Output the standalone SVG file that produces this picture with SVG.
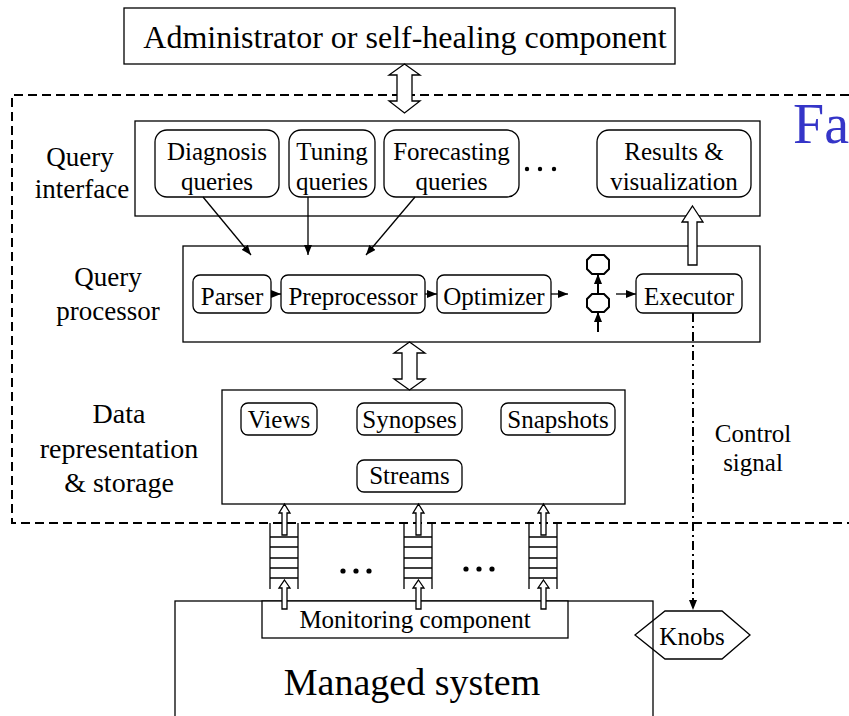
<svg xmlns="http://www.w3.org/2000/svg" width="849" height="716" viewBox="0 0 849 716">
  <style>
    text { font-family: "Liberation Serif", "Times New Roman", Times, serif; fill: #000; }
    .t25 { font-size: 25px; text-anchor: middle; }
    .lbl { font-size: 27px; text-anchor: middle; }
    .lbl28 { font-size: 28px; text-anchor: middle; }
    .box { fill: #fff; stroke: #000; stroke-width: 1.3; }
    .rnd { fill: #fff; stroke: #000; stroke-width: 1.3; }
    .line { fill: none; stroke: #000; stroke-width: 1.3; }
    .thick { fill: none; stroke: #000; stroke-width: 2; }
    .hollow { fill: #fff; stroke: #000; stroke-width: 1.3; stroke-linejoin: miter; }
    .dot { fill: #000; }
  </style>
  <defs>
    <marker id="ah" viewBox="0 0 10 10" refX="10" refY="5" markerWidth="10" markerHeight="8" markerUnits="userSpaceOnUse" orient="auto" preserveAspectRatio="none">
      <path d="M0,0 L10,5 L0,10 z" fill="#000"/>
    </marker>
  </defs>

  <!-- Managed system (extends past the lower edge) -->
  <g id="managed-system">
    <rect class="box" x="175" y="601" width="478" height="130"/>
    <text x="412" y="695" style="font-size:38px;text-anchor:middle">Managed system</text>
  </g>

  <!-- Monitoring component -->
  <g id="monitoring-component">
    <rect class="box" x="262" y="601" width="306" height="37"/>
    <text class="t25" x="415" y="628">Monitoring component</text>
  </g>

  <!-- Administrator -->
  <g id="administrator">
    <rect class="box" x="124" y="8" width="551" height="56"/>
    <text x="405" y="48" style="font-size:32px;text-anchor:middle">Administrator or self-healing component</text>
  </g>

  <!-- Framework boundary (open on the right) -->
  <g id="framework">
    <path d="M849,95 H12 V523 H849" fill="none" stroke="#000" stroke-width="2" stroke-dasharray="9 5"/>
    <text x="793" y="143" style="font-size:56px;fill:#3535c8">Fa</text>
  </g>

  <!-- Query interface layer -->
  <g id="query-interface">
    <rect class="box" x="135" y="121" width="625" height="95"/>
    <text class="lbl" x="80" y="166">Query</text>
    <text class="lbl" x="82" y="198">interface</text>
  </g>
  <g id="diagnosis-queries">
    <rect class="rnd" x="155" y="130" width="124" height="67" rx="12"/>
    <text class="t25" x="217" y="160">Diagnosis</text>
    <text class="t25" x="217" y="190">queries</text>
  </g>
  <g id="tuning-queries">
    <rect class="rnd" x="289" y="130" width="86" height="67" rx="12"/>
    <text class="t25" x="332" y="160">Tuning</text>
    <text class="t25" x="332" y="190">queries</text>
  </g>
  <g id="forecasting-queries">
    <rect class="rnd" x="384" y="130" width="135" height="67" rx="12"/>
    <text class="t25" x="451.5" y="160">Forecasting</text>
    <text class="t25" x="451.5" y="190">queries</text>
  </g>
  <g id="more-queries">
    <circle class="dot" cx="527" cy="169" r="2.2"/>
    <circle class="dot" cx="540" cy="169" r="2.2"/>
    <circle class="dot" cx="554" cy="169" r="2.2"/>
  </g>
  <g id="results-visualization">
    <rect class="rnd" x="597" y="130" width="154" height="67" rx="12"/>
    <text class="t25" x="674" y="160">Results &amp;</text>
    <text class="t25" x="674" y="190">visualization</text>
  </g>

  <!-- Query processor layer -->
  <g id="query-processor">
    <rect class="box" x="183" y="246" width="577" height="96"/>
    <text class="lbl" x="108" y="286">Query</text>
    <text class="lbl" x="108" y="320">processor</text>
  </g>
  <g id="parser">
    <rect class="rnd" x="193" y="275" width="78" height="38" rx="7"/>
    <text class="t25" x="232" y="305">Parser</text>
  </g>
  <g id="preprocessor">
    <rect class="rnd" x="281" y="275" width="144" height="38" rx="7"/>
    <text class="t25" x="353" y="305">Preprocessor</text>
  </g>
  <g id="optimizer">
    <rect class="rnd" x="437" y="275" width="114" height="38" rx="7"/>
    <text class="t25" x="494" y="305">Optimizer</text>
  </g>
  <g id="plan-operators">
    <path class="thick" d="M592,255 H604 L609,260 V269 L604,274 H592 L587,269 V260 Z"/>
    <path class="thick" d="M592,294 H604 L609,299 V307 L604,312 H592 L587,307 V299 Z"/>
  </g>
  <g id="executor">
    <rect class="rnd" x="636" y="274" width="106" height="39" rx="7"/>
    <text class="t25" x="689" y="305">Executor</text>
  </g>

  <!-- Data representation & storage layer -->
  <g id="data-storage">
    <rect class="box" x="222" y="390" width="403" height="114"/>
    <text class="lbl28" x="119" y="423">Data</text>
    <text class="lbl28" x="119" y="458">representation</text>
    <text class="lbl28" x="119" y="492">&amp; storage</text>
  </g>
  <g id="views">
    <rect class="rnd" x="241" y="403" width="76" height="32" rx="7"/>
    <text class="t25" x="279" y="428">Views</text>
  </g>
  <g id="synopses">
    <rect class="rnd" x="357" y="403" width="105" height="32" rx="7"/>
    <text class="t25" x="409.5" y="428">Synopses</text>
  </g>
  <g id="snapshots">
    <rect class="rnd" x="501" y="403" width="114" height="32" rx="7"/>
    <text class="t25" x="558" y="428">Snapshots</text>
  </g>
  <g id="streams">
    <rect class="rnd" x="357" y="460" width="105" height="32" rx="7"/>
    <text class="t25" x="409.5" y="484">Streams</text>
  </g>

  <!-- Input queues -->
  <g id="queue-1">
    <path class="line" d="M270,523 V589 M298,523 V589 M270,537 H298 M270,547 H298 M270,558 H298 M270,568 H298 M270,578 H298"/>
  </g>
  <g id="queue-2">
    <path class="line" d="M404,523 V589 M432,523 V589 M404,537 H432 M404,547 H432 M404,558 H432 M404,568 H432 M404,578 H432"/>
  </g>
  <g id="queue-3">
    <path class="line" d="M529,523 V589 M557,523 V589 M529,537 H557 M529,547 H557 M529,558 H557 M529,568 H557 M529,578 H557"/>
  </g>
  <g id="more-queues">
    <circle class="dot" cx="343" cy="571" r="2.6"/>
    <circle class="dot" cx="356" cy="571" r="2.6"/>
    <circle class="dot" cx="369" cy="571" r="2.6"/>
    <circle class="dot" cx="466" cy="569" r="2.6"/>
    <circle class="dot" cx="479" cy="569" r="2.6"/>
    <circle class="dot" cx="492" cy="569" r="2.6"/>
  </g>

  <!-- Knobs -->
  <g id="knobs">
    <path class="line" d="M635,635 L665,611 H722 L750,635 L722,659 H665 Z"/>
    <text class="t25" x="692" y="645">Knobs</text>
  </g>

  <!-- Connectors -->
  <g id="connectors">
    <!-- administrator <-> query interface -->
    <path class="hollow" d="M404.5,64 L420,75 H412 V101 H420 L404.5,113 L389,101 H397 V75 H389 Z"/>
    <!-- query processor <-> data storage -->
    <path class="hollow" d="M409.5,342 L425,353 H417 V379 H425 L409.5,390 L394,379 H402 V353 H394 Z"/>
    <!-- executor -> results -->
    <path class="hollow" d="M692.5,206 L703,222 H697 V265 H688 V222 H682 Z"/>

    <!-- queries -> query processor -->
    <line class="line" x1="203" y1="197" x2="251" y2="255" marker-end="url(#ah)"/>
    <line class="line" x1="308" y1="197" x2="308" y2="255" marker-end="url(#ah)"/>
    <line class="line" x1="415" y1="197" x2="366" y2="255" marker-end="url(#ah)"/>

    <!-- processing pipeline -->
    <line class="line" x1="271" y1="294" x2="281" y2="294" marker-end="url(#ah)"/>
    <line class="line" x1="425" y1="294" x2="437" y2="294" marker-end="url(#ah)"/>
    <line class="line" x1="551" y1="294" x2="568" y2="294" marker-end="url(#ah)"/>
    <line class="line" x1="616" y1="294" x2="636" y2="294" marker-end="url(#ah)"/>
    <line class="thick" x1="598" y1="294" x2="598" y2="274" marker-end="url(#ah)"/>
    <line class="thick" x1="598" y1="332" x2="598" y2="312" marker-end="url(#ah)"/>

    <!-- control signal -->
    <line x1="693" y1="313" x2="693" y2="610" stroke="#000" stroke-width="2" stroke-dasharray="9 4 2 4" marker-end="url(#ah)"/>
    <text class="t25" x="753" y="442">Control</text>
    <text class="t25" x="753" y="471">signal</text>

    <!-- queue inputs / outputs -->
    <path class="hollow" d="M284.5,504 L290,513 H287 V535 H282 V513 H279 Z"/>
    <path class="hollow" d="M284.5,580 L290,588 H287 V609 H282 V588 H279 Z"/>
    <path class="hollow" d="M418.5,504 L424,513 H421 V535 H416 V513 H413 Z"/>
    <path class="hollow" d="M418.5,580 L424,588 H421 V609 H416 V588 H413 Z"/>
    <path class="hollow" d="M543.5,504 L549,513 H546 V535 H541 V513 H538 Z"/>
    <path class="hollow" d="M543.5,580 L549,588 H546 V609 H541 V588 H538 Z"/>
  </g>
</svg>
